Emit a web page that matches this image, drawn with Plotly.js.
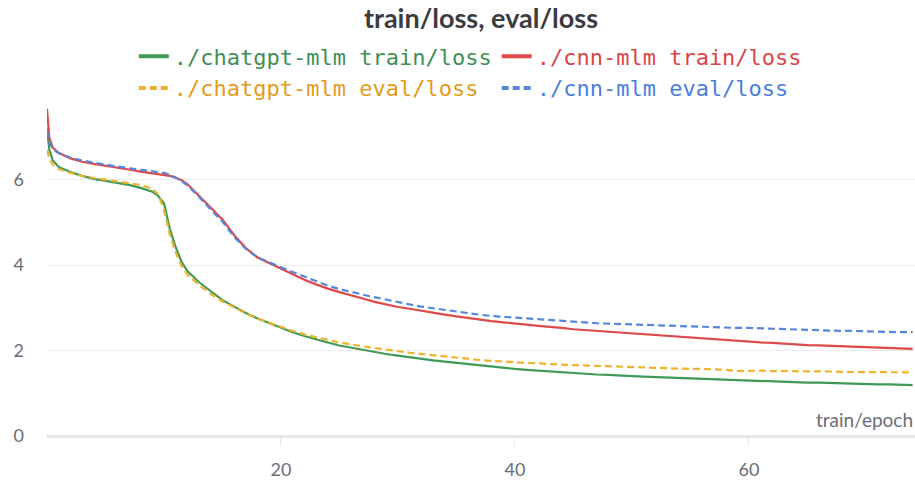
<!DOCTYPE html>
<html>
<head>
<meta charset="utf-8">
<script src="https://cdn.plot.ly/plotly-3.0.1.min.js"></script>
<style>html,body{margin:0;padding:0;background:#fff;}#chart{width:915px;height:480px;}</style>
</head>
<body>
<div id="chart"></div>
<script>
const epoch = [0, 0.2, 0.5, 1, 2, 3, 4, 5, 6, 7, 8, 9, 9.5, 10, 10.5, 11, 11.5, 12,
  13, 14, 15, 16, 17, 18, 19, 20, 21, 22, 23, 24, 25, 26, 27, 28, 29, 30,
  31, 32, 33, 34, 35, 36, 37, 38, 39, 40, 41, 42, 43, 44, 45, 46, 47, 48, 49, 50,
  51, 52, 53, 54, 55, 56, 57, 58, 59, 60, 61, 62, 63, 64, 65, 66, 67, 68, 69, 70,
  71, 72, 73, 74];

const chatgptTrain = [7.2, 6.7, 6.45, 6.3, 6.18, 6.09, 6.02, 5.97, 5.93, 5.88, 5.81, 5.72, 5.62, 5.45, 4.85, 4.42, 4.08, 3.86,
  3.6, 3.38, 3.18, 3.03, 2.88, 2.75, 2.64, 2.53, 2.43, 2.34, 2.26, 2.19, 2.12, 2.07, 2.01, 1.96, 1.92, 1.88,
  1.84, 1.81, 1.77, 1.74, 1.71, 1.68, 1.65, 1.62, 1.6, 1.57, 1.55, 1.53, 1.51, 1.49, 1.47, 1.46, 1.44, 1.43, 1.41, 1.4,
  1.39, 1.38, 1.37, 1.36, 1.35, 1.34, 1.33, 1.31, 1.3, 1.29, 1.29, 1.28, 1.27, 1.26, 1.25, 1.25, 1.24, 1.23, 1.23, 1.22,
  1.21, 1.21, 1.2, 1.19];

const cnnTrain = [7.66, 6.98, 6.75, 6.63, 6.5, 6.42, 6.37, 6.33, 6.29, 6.24, 6.19, 6.15, 6.13, 6.11, 6.09, 6.05, 5.99, 5.9,
  5.62, 5.33, 5.07, 4.7, 4.4, 4.18, 4.05, 3.93, 3.8, 3.66, 3.55, 3.45, 3.37, 3.3, 3.22, 3.14, 3.08, 3.02,
  2.98, 2.93, 2.89, 2.84, 2.8, 2.76, 2.72, 2.69, 2.66, 2.64, 2.61, 2.58, 2.56, 2.53, 2.5, 2.48, 2.46, 2.44, 2.42, 2.4,
  2.38, 2.36, 2.34, 2.32, 2.3, 2.28, 2.26, 2.25, 2.23, 2.21, 2.19, 2.18, 2.16, 2.15, 2.13, 2.12, 2.11, 2.09, 2.08, 2.07,
  2.06, 2.05, 2.05, 2.04];

const chatgptEval = [6.7, 6.5, 6.35, 6.25, 6.16, 6.09, 6.04, 6.0, 5.96, 5.92, 5.88, 5.79, 5.66, 5.3, 4.72, 4.3, 3.98, 3.78,
  3.53, 3.33, 3.15, 3.01, 2.87, 2.75, 2.65, 2.55, 2.46, 2.38, 2.31, 2.25, 2.19, 2.14, 2.1, 2.06, 2.02, 1.98,
  1.95, 1.92, 1.89, 1.86, 1.83, 1.81, 1.78, 1.76, 1.74, 1.73, 1.71, 1.7, 1.68, 1.67, 1.66, 1.65, 1.64, 1.63, 1.62, 1.61,
  1.6, 1.6, 1.59, 1.58, 1.57, 1.57, 1.56, 1.55, 1.52, 1.53, 1.53, 1.52, 1.52, 1.52, 1.51, 1.51, 1.51, 1.5, 1.5, 1.5,
  1.5, 1.49, 1.49, 1.49];

const cnnEval = [7.15, 6.88, 6.72, 6.62, 6.52, 6.45, 6.4, 6.35, 6.31, 6.27, 6.23, 6.2, 6.18, 6.16, 6.12, 6.05, 5.97, 5.87,
  5.6, 5.3, 5.02, 4.66, 4.38, 4.18, 4.06, 3.95, 3.84, 3.73, 3.62, 3.52, 3.44, 3.37, 3.31, 3.25, 3.19, 3.13,
  3.08, 3.03, 2.99, 2.95, 2.91, 2.87, 2.84, 2.81, 2.79, 2.77, 2.75, 2.73, 2.71, 2.69, 2.67, 2.65, 2.64, 2.63, 2.62, 2.61,
  2.6, 2.59, 2.58, 2.57, 2.56, 2.55, 2.54, 2.54, 2.53, 2.53, 2.52, 2.51, 2.5, 2.49, 2.48, 2.48, 2.47, 2.46, 2.46, 2.45,
  2.44, 2.44, 2.43, 2.43];

const seriesNames = ['./chatgpt-mlm train/loss', './cnn-mlm train/loss', './chatgpt-mlm eval/loss', './cnn-mlm eval/loss'];
const yTickVals = [0, 2, 4, 6];
const xTickVals = [20, 40, 60];

const colors = ['#3f9a55', '#de4a4a', '#f0b22a', '#5487dd'];
const textColors = ['#3f8f55', '#d94545', '#e39b1c', '#4a80dc'];
const ys = [chatgptTrain, cnnTrain, chatgptEval, cnnEval];
const dashes = ['solid', 'solid', '7px,4px', '7px,4px'];

// data traces (not in legend)
const traces = ys.map((y, i) => ({
  x: epoch, y: y, type: 'scatter', mode: 'lines', showlegend: false,
  line: {color: colors[i], width: 2.2, dash: dashes[i]}
}));
// legend entries with thicker, short keys
const legendDash = ['solid', 'solid', '7px,4px', '7px,4px'];
seriesNames.forEach((n, i) => {
  traces.push({
    x: [null], y: [null], type: 'scatter', mode: 'lines', showlegend: true,
    name: '<span style="color:' + textColors[i] + '">' + n + '</span>',
    line: {color: colors[i], width: 4, dash: legendDash[i]}
  });
});

const layout = {
  width: 915, height: 480,
  margin: {l: 47, r: 0, t: 105, b: 44},
  paper_bgcolor: '#fff', plot_bgcolor: '#fff',
  title: {text: '<b>train/loss, eval/loss</b>', x: 0.5, xref: 'paper', xanchor: 'center', y: 0.962, yanchor: 'middle',
    font: {family: 'Lato, sans-serif', size: 27, color: '#3b3b3f'}},
  showlegend: true,
  legend: {orientation: 'h', x: 0.1, xanchor: 'left', y: 1.21, yanchor: 'top',
    font: {family: '"DejaVu Sans Mono", monospace', size: 22}, itemwidth: 30, tracegroupgap: 0},
  xaxis: {range: [0, 74.2], tickvals: xTickVals, showgrid: false, zeroline: false,
    showline: false, ticks: 'outside', ticklen: 9, tickcolor: '#e8e8e8', tickwidth: 1,
    ticklabelstandoff: 8,
    tickfont: {family: 'Lato, sans-serif', size: 18, color: '#6c6c78'}},
  yaxis: {range: [0, 7.75], tickvals: yTickVals, showgrid: true, gridcolor: '#ececec', gridwidth: 1,
    zeroline: true, zerolinecolor: '#e6e6e6', zerolinewidth: 3, ticks: '', ticklabelstandoff: 22,
    tickfont: {family: 'Lato, sans-serif', size: 18, color: '#6c6c78'}},
  annotations: [{text: 'train/epoch', xref: 'paper', yref: 'paper', x: 1, y: 0.05, xanchor: 'right', yanchor: 'middle',
    showarrow: false, font: {family: 'Lato, sans-serif', size: 19, color: '#6c6c78'}}]
};

Plotly.newPlot('chart', traces, layout, {displayModeBar: false, staticPlot: true});
</script>
</body>
</html>
